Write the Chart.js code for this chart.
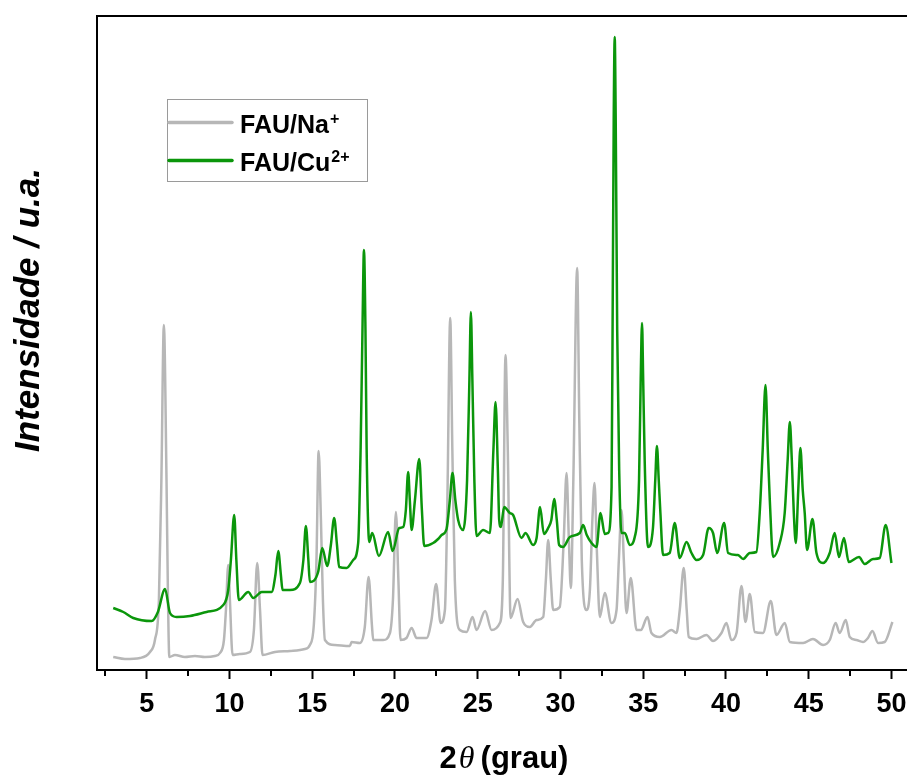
<!DOCTYPE html>
<html>
<head>
<meta charset="utf-8">
<script src="https://cdn.jsdelivr.net/npm/chart.js@4.4.1/dist/chart.umd.min.js"></script>
<style>
html,body{margin:0;padding:0;background:#fff;overflow:hidden;width:907px;height:778px;}
#wrap{position:absolute;left:0;top:0;width:912px;height:778px;}
canvas{display:block;}
</style>
</head>
<body>
<div id="wrap"><canvas id="c" width="912" height="778" style="width:912px;height:778px"></canvas></div>
<script>
// ---- data (2θ in degrees, intensity in arbitrary units) ----
const seriesNames = ["FAU/Na", "FAU/Cu"];
const seriesSup = ["+", "2+"];

const naX = [2.98,3.69,4.6,5.2,5.5,5.74,5.89,6.04,6.2,6.29,6.37,6.71,7.31,7.92,8.52,9.12,9.43,9.67,9.79,9.93,10.03,10.19,10.63,11.24,11.48,11.68,11.85,12.0,12.75,13.66,14.56,14.86,15.1,15.26,15.39,15.53,15.65,15.77,16.37,17.28,17.38,17.88,18.18,18.41,18.61,18.69,19.29,19.7,19.88,20.06,20.21,20.34,20.7,21.01,21.31,21.91,22.21,22.49,22.76,23.02,23.17,23.34,23.47,23.62,23.92,24.33,24.69,24.93,25.45,25.84,26.34,26.52,26.68,26.82,26.99,27.41,27.75,28.15,28.56,28.96,29.12,29.26,29.42,29.56,29.96,30.2,30.37,30.51,30.63,30.78,31.01,31.14,31.29,31.58,31.78,31.93,32.06,32.2,32.38,32.68,33.08,33.39,33.53,33.69,33.83,33.99,34.25,34.6,34.86,35.26,35.5,36.0,36.71,37.01,37.21,37.45,37.63,37.75,38.22,38.82,39.22,39.73,40.03,40.33,40.64,40.94,41.18,41.44,41.74,42.24,42.71,43.05,43.56,43.86,44.66,45.26,45.87,46.27,46.63,46.87,47.24,47.48,47.88,48.28,48.58,48.85,49.19,49.59,50.06];
const naY = [13,11,12,18,30,70,190,345,190,70,13,15,13,14,13,14,17,30,60,105,70,15,16,18,40,107,60,15,18,19,21,25,45,110,219,150,70,30,25,24,28,27,43,93,45,30,30,37,70,158,90,30,32,42,32,32,50,86,47,60,170,352,220,90,40,38,53,40,59,40,47,90,315,220,52,71,48,43,50,53,90,130,90,60,63,130,197,130,82,190,402,250,110,60,80,150,187,120,53,77,47,60,110,160,110,57,92,40,40,53,37,33,40,37,60,102,60,33,31,35,29,37,47,30,37,84,48,76,38,37,69,35,47,28,27,31,25,30,47,37,50,33,30,28,32,39,27,28,48];

const cuX = [2.98,3.59,4.19,5.3,5.68,6.11,6.41,6.81,7.62,8.62,9.63,9.93,10.09,10.29,10.42,10.57,11.14,11.44,11.95,12.55,12.78,12.95,13.11,13.21,13.66,14.26,14.47,14.62,14.77,14.86,15.36,15.61,15.91,16.13,16.33,16.5,16.63,17.08,17.48,17.78,17.93,18.04,18.13,18.22,18.29,18.45,18.63,19.03,19.59,19.86,20.26,20.5,20.66,20.8,20.9,21.01,21.21,21.47,21.63,21.77,22.31,22.61,22.82,23.12,23.32,23.48,23.65,23.82,24.12,24.36,24.5,24.59,24.68,24.8,24.93,25.33,25.74,25.95,26.08,26.22,26.3,26.4,26.6,26.94,27.14,27.65,27.89,28.35,28.56,28.77,29.0,29.26,29.45,29.62,29.78,29.92,30.16,30.57,31.17,31.37,31.59,31.88,32.18,32.42,32.68,32.88,33.09,33.16,33.22,33.28,33.34,33.43,33.55,33.69,33.89,34.19,34.49,34.75,34.85,34.93,35.0,35.09,35.29,35.59,35.73,35.83,35.94,36.04,36.2,36.6,36.91,37.21,37.62,37.92,38.22,38.62,38.96,39.22,39.47,39.89,40.13,40.73,41.04,41.44,41.84,42.04,42.22,42.39,42.53,42.65,42.85,43.25,43.55,43.73,43.86,43.98,44.1,44.22,44.37,44.5,44.64,44.76,44.9,45.23,45.47,45.87,46.27,46.57,46.83,47.13,47.42,48.04,48.38,48.89,49.29,49.65,50.0];
const cuY = [62,58,52,49,58,81,57,53,54,58,65,80,110,155,110,70,78,72,78,78,95,119,95,80,80,87,110,144,110,88,98,122,104,125,152,125,103,102,110,127,223,340,420,340,223,128,137,114,138,119,142,143,160,198,170,140,170,211,160,124,127,131,135,141,170,197,170,150,140,190,290,358,290,190,134,140,137,220,268,200,150,143,163,157,155,132,137,125,132,163,136,142,150,171,150,125,123,133,137,145,135,127,123,157,136,137,183,370,550,633,550,340,200,137,137,125,133,190,290,347,290,210,123,142,190,224,190,157,115,117,147,112,128,117,110,115,142,137,117,147,117,115,111,117,118,157,220,285,220,170,113,127,157,210,248,210,157,127,180,222,180,157,120,151,117,107,117,137,113,132,108,113,106,111,112,145,107];

const xMin = 2, xMax = 51;
const yMin = 0, yMax = 654;
const majorTicks = [5,10,15,20,25,30,35,40,45,50];
const minorTicks = [2.5,7.5,12.5,17.5,22.5,27.5,32.5,37.5,42.5,47.5];

const grayColor = '#b7b7b7';
const greenColor = '#0b960b';

function pts(xs, ys){ return xs.map((x,i)=>({x:x, y:ys[i]})); }

const framePlugin = {
  id:'frame',
  afterDraw(chart){
    const ctx = chart.ctx, a = chart.chartArea, xs = chart.scales.x;
    ctx.save();
    ctx.strokeStyle = '#000';
    ctx.lineWidth = 2;
    ctx.beginPath();
    ctx.moveTo(a.left, a.bottom+1);
    ctx.lineTo(a.left, a.top);
    ctx.lineTo(a.right, a.top);
    ctx.stroke();
    // minor ticks
    ctx.lineWidth = 2;
    ctx.beginPath();
    minorTicks.forEach(v=>{
      const px = Math.round(xs.getPixelForValue(v));
      ctx.moveTo(px, a.bottom);
      ctx.lineTo(px, a.bottom+6);
    });
    ctx.stroke();

    // legend
    const lx = 167, ly = 99, lw = 200, lh = 82;
    ctx.lineWidth = 1;
    ctx.strokeStyle = '#9a9a9a';
    ctx.strokeRect(lx+0.5, ly+0.5, lw, lh);
    const rows = [{c:grayColor, y:122.5, base:133}, {c:greenColor, y:160.5, base:171}];
    rows.forEach((r,i)=>{
      ctx.strokeStyle = r.c;
      ctx.lineWidth = 3.5;
      ctx.lineCap = 'round';
      ctx.beginPath();
      ctx.moveTo(169, r.y); ctx.lineTo(232, r.y); ctx.stroke();
      ctx.fillStyle = '#000';
      ctx.textBaseline = 'alphabetic';
      ctx.textAlign = 'left';
      ctx.font = 'bold 25px "Liberation Sans", Arial, sans-serif';
      ctx.fillText(seriesNames[i], 240, r.base);
      const w = ctx.measureText(seriesNames[i]).width;
      ctx.font = 'bold 16px "Liberation Sans", Arial, sans-serif';
      ctx.fillText(seriesSup[i], 240 + w + 1, r.base - 9);
    });

    // y title
    ctx.save();
    ctx.translate(39, 310);
    ctx.rotate(-Math.PI/2);
    ctx.fillStyle = '#000';
    ctx.textAlign = 'center';
    ctx.textBaseline = 'alphabetic';
    ctx.font = 'italic bold 35px "Liberation Sans", Arial, sans-serif';
    ctx.fillText('Intensidade / u.a.', 0, 0);
    ctx.restore();

    // x title: 2θ (grau)
    const parts = [
      {t:'2', f:'bold 31px "Liberation Sans", Arial, sans-serif', dx:0},
      {t:'\u03B8', f:'italic 32px "Liberation Serif", "Times New Roman", serif', dx:2},
      {t:'(grau)', f:'bold 31px "Liberation Sans", Arial, sans-serif', dx:6}
    ];
    let total = 0;
    parts.forEach(p=>{ ctx.font = p.f; p.w = ctx.measureText(p.t).width; total += p.w + p.dx; });
    let x0 = 504 - total/2;
    ctx.fillStyle = '#000';
    ctx.textAlign = 'left';
    parts.forEach(p=>{ ctx.font = p.f; x0 += p.dx; ctx.fillText(p.t, x0, 768); x0 += p.w; });
    ctx.restore();
  }
};

new Chart(document.getElementById('c'), {
  type:'line',
  data:{
    datasets:[
      {label:'FAU/Na+', data:pts(naX,naY), borderColor:grayColor, borderWidth:2.5, pointRadius:0, fill:false, cubicInterpolationMode:'monotone', order:2},
      {label:'FAU/Cu2+', data:pts(cuX,cuY), borderColor:greenColor, borderWidth:2.5, pointRadius:0, fill:false, cubicInterpolationMode:'monotone', order:1}
    ]
  },
  options:{
    responsive:false,
    maintainAspectRatio:false,
    devicePixelRatio:1,
    animation:false,
    layout:{padding:{left:97, top:16, right:4, bottom:0}},
    plugins:{legend:{display:false}, tooltip:{enabled:false}},
    scales:{
      x:{
        type:'linear', min:xMin, max:xMax,
        afterBuildTicks(s){ s.ticks = majorTicks.map(v=>({value:v})); },
        afterFit(s){ s.height = 108; s.paddingLeft = 0; s.paddingRight = 0; },
        grid:{display:true, drawOnChartArea:false, drawTicks:true, tickLength:9, tickWidth:2, tickColor:'#000'},
        border:{display:true, color:'#000', width:2},
        ticks:{color:'#000', font:{family:'"Liberation Sans", Arial, sans-serif', size:27, weight:'bold'}, padding:9, maxRotation:0, autoSkip:false, callback:v=>String(v)}
      },
      y:{
        type:'linear', min:yMin, max:yMax, display:false
      }
    }
  },
  plugins:[framePlugin]
});
</script>
</body>
</html>
